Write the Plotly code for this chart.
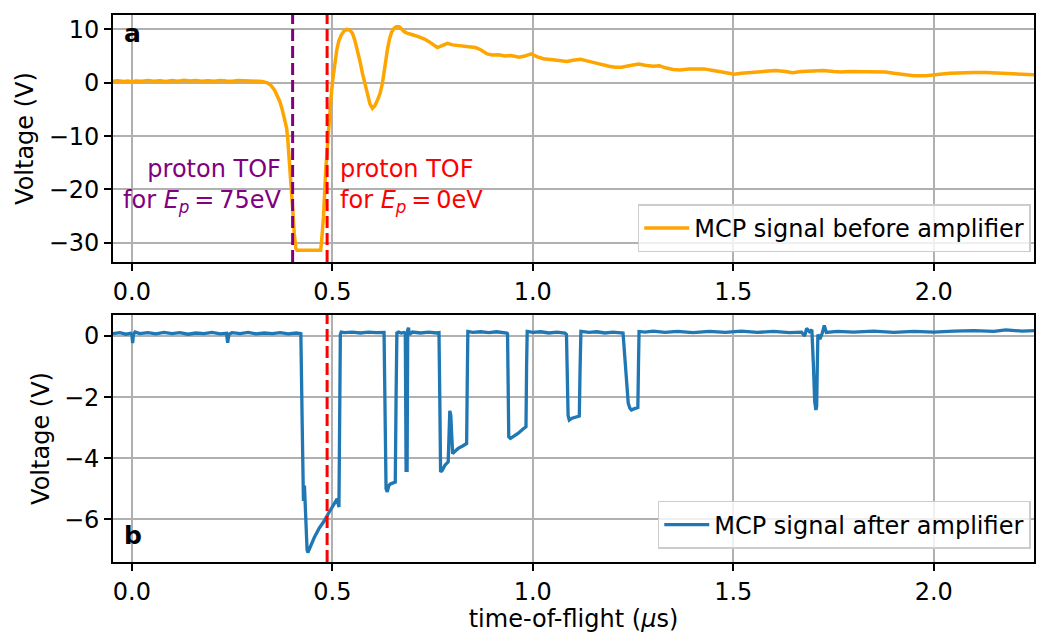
import plotly.graph_objects as go

# ---------------- data ----------------
# (time in microseconds, voltage in V) - MCP signal before amplifier
signal_before = [
    (-0.047, 0.3), (-0.035, 0.38), (-0.02, 0.22), (-0.01, 0.33), (0.0, 0.2), (0.01, 0.35),
    (0.025, 0.28), (0.04, 0.42), (0.055, 0.3), (0.07, 0.36), (0.085, 0.25), (0.10, 0.4),
    (0.115, 0.3), (0.13, 0.45), (0.145, 0.33), (0.16, 0.42), (0.175, 0.3), (0.19, 0.38),
    (0.205, 0.28), (0.22, 0.44), (0.235, 0.35), (0.25, 0.3), (0.265, 0.42), (0.28, 0.34),
    (0.295, 0.4), (0.31, 0.3), (0.325, 0.25), (0.338, 0.0), (0.347, -0.5), (0.356, -1.4),
    (0.363, -2.4), (0.369, -3.5), (0.375, -5.0), (0.381, -6.6), (0.386, -8.5), (0.389, -10.7),
    (0.393, -14.5), (0.397, -18.8), (0.401, -23.5), (0.405, -28.2), (0.409, -31.0), (0.412, -31.4),
    (0.44, -31.4), (0.471, -31.4), (0.474, -29.0), (0.478, -25.1), (0.484, -15.8), (0.489, -10.0),
    (0.493, -6.4), (0.497, -2.5), (0.501, 0.5), (0.506, 3.6), (0.511, 6.1), (0.516, 7.8),
    (0.522, 8.9), (0.529, 9.7), (0.536, 10.0), (0.543, 9.9), (0.550, 9.3), (0.556, 8.0),
    (0.563, 6.1), (0.569, 4.0), (0.575, 1.8), (0.582, -0.5), (0.588, -2.6), (0.594, -4.0),
    (0.600, -4.8), (0.606, -4.3), (0.613, -3.2), (0.619, -2.0), (0.625, -0.1), (0.629, 2.0),
    (0.633, 4.3), (0.638, 6.5), (0.643, 8.3), (0.648, 9.5), (0.654, 10.2), (0.660, 10.5),
    (0.667, 10.5), (0.673, 10.0), (0.679, 9.6), (0.686, 9.3), (0.692, 9.1), (0.70, 9.0),
    (0.716, 8.6), (0.73, 8.2), (0.741, 7.7), (0.752, 7.1), (0.762, 6.6), (0.772, 6.9),
    (0.787, 7.4), (0.80, 7.1), (0.816, 6.9), (0.83, 6.8), (0.845, 6.7), (0.857, 6.6),
    (0.87, 6.2), (0.886, 5.4), (0.90, 5.2), (0.915, 5.25), (0.93, 5.0), (0.945, 5.1),
    (0.966, 4.8), (0.98, 5.0), (0.996, 5.4), (1.01, 4.9), (1.026, 4.5), (1.05, 4.3),
    (1.07, 4.1), (1.085, 4.0), (1.10, 4.2), (1.119, 4.4), (1.14, 4.0), (1.155, 3.7),
    (1.171, 3.5), (1.19, 3.1), (1.205, 2.9), (1.222, 2.9), (1.24, 3.2), (1.264, 3.5),
    (1.28, 3.3), (1.30, 3.1), (1.316, 3.2), (1.33, 2.8), (1.35, 2.5), (1.367, 2.4),
    (1.39, 2.6), (1.41, 2.6), (1.427, 2.6), (1.45, 2.3), (1.469, 2.0), (1.49, 1.8),
    (1.503, 1.6), (1.52, 1.8), (1.555, 2.0), (1.58, 2.2), (1.606, 2.3), (1.63, 2.1),
    (1.648, 1.9), (1.67, 2.1), (1.70, 2.2), (1.725, 2.3), (1.75, 2.1), (1.768, 2.0),
    (1.79, 2.1), (1.82, 2.1), (1.853, 2.1), (1.88, 2.0), (1.90, 1.8), (1.922, 1.6),
    (1.95, 1.3), (1.981, 1.3), (2.0, 1.4), (2.015, 1.6), (2.04, 1.8), (2.067, 1.9),
    (2.10, 1.9), (2.13, 1.9), (2.152, 1.8), (2.18, 1.7), (2.21, 1.6), (2.25, 1.5),
]

# (time in microseconds, voltage in V) - MCP signal after amplifier
signal_after = [
    (-0.047, 0.08), (-0.03, 0.11), (-0.015, 0.06), (-0.003, 0.09), (0.0, 0.05), (0.002, -0.23),
    (0.004, 0.05), (0.008, 0.13), (0.02, 0.08), (0.04, 0.11), (0.06, 0.07), (0.08, 0.12),
    (0.10, 0.08), (0.12, 0.11), (0.14, 0.06), (0.16, 0.1), (0.18, 0.08), (0.20, 0.12),
    (0.22, 0.07), (0.236, 0.09), (0.239, -0.22), (0.242, 0.06), (0.25, 0.11), (0.27, 0.08),
    (0.29, 0.12), (0.31, 0.07), (0.33, 0.1), (0.35, 0.08), (0.37, 0.11), (0.39, 0.07),
    (0.41, 0.1), (0.4215, 0.08), (0.425, -3.0), (0.428, -5.4), (0.4305, -4.9), (0.4325, -5.6),
    (0.437, -7.0), (0.439, -7.09), (0.446, -6.87), (0.455, -6.6), (0.467, -6.3), (0.48, -6.05),
    (0.492, -5.77), (0.503, -5.55), (0.512, -5.33), (0.5165, -5.6), (0.5185, -2.0), (0.520, 0.05),
    (0.522, 0.13), (0.53, 0.11), (0.55, 0.13), (0.57, 0.1), (0.59, 0.13), (0.61, 0.11),
    (0.629, 0.12), (0.632, -2.5), (0.634, -5.0), (0.637, -5.1), (0.641, -4.9), (0.645, -4.84),
    (0.652, -4.8), (0.657, -4.78), (0.659, -2.0), (0.661, 0.1), (0.665, 0.13), (0.672, 0.1),
    (0.679, 0.12), (0.682, 0.1), (0.684, -4.4), (0.6865, -4.4), (0.688, 0.2), (0.690, 0.27),
    (0.692, 0.05), (0.70, 0.13), (0.72, 0.1), (0.74, 0.13), (0.76, 0.1), (0.766, 0.11),
    (0.768, -2.0), (0.770, -4.45), (0.774, -4.4), (0.781, -4.23), (0.789, -4.12), (0.791, -3.0),
    (0.793, -2.45), (0.7955, -2.6), (0.798, -3.6), (0.80, -3.85), (0.808, -3.75), (0.814, -3.68),
    (0.825, -3.6), (0.835, -3.52), (0.8365, -1.5), (0.838, 0.15), (0.85, 0.12), (0.87, 0.14),
    (0.89, 0.11), (0.91, 0.14), (0.935, 0.1), (0.937, 0.08), (0.940, -3.3), (0.944, -3.35),
    (0.95, -3.3), (0.963, -3.19), (0.975, -3.05), (0.983, -2.97), (0.9845, -1.0), (0.986, 0.15),
    (1.0, 0.12), (1.02, 0.14), (1.04, 0.1), (1.06, 0.13), (1.08, 0.1), (1.084, 0.05),
    (1.088, -2.6), (1.091, -2.75), (1.098, -2.69), (1.108, -2.66), (1.116, -2.62), (1.118, -1.0),
    (1.120, 0.15), (1.14, 0.12), (1.16, 0.14), (1.18, 0.1), (1.20, 0.13), (1.225, 0.1),
    (1.229, -0.6), (1.234, -1.5), (1.238, -2.2), (1.242, -2.36), (1.246, -2.42), (1.255, -2.37),
    (1.262, -2.34), (1.2635, -1.0), (1.265, 0.15), (1.28, 0.13), (1.30, 0.16), (1.33, 0.12),
    (1.36, 0.15), (1.40, 0.11), (1.44, 0.15), (1.48, 0.12), (1.52, 0.16), (1.56, 0.12),
    (1.60, 0.15), (1.64, 0.11), (1.67, 0.13), (1.678, 0.0), (1.683, 0.25), (1.69, 0.14),
    (1.696, 0.2), (1.700, -1.0), (1.703, -2.14), (1.706, -2.42), (1.708, -2.3), (1.7095, -1.04),
    (1.711, 0.05), (1.716, -0.1), (1.722, 0.1), (1.727, 0.35), (1.732, 0.12), (1.76, 0.15),
    (1.80, 0.13), (1.85, 0.16), (1.90, 0.12), (1.95, 0.15), (2.0, 0.13), (2.05, 0.16),
    (2.10, 0.18), (2.15, 0.15), (2.18, 0.2), (2.22, 0.16), (2.25, 0.18),
]

tof_75eV = 0.401   # proton TOF for Ep = 75 eV (us)
tof_0eV = 0.487    # proton TOF for Ep = 0 eV (us)

x_ticks = [0.0, 0.5, 1.0, 1.5, 2.0]
x_tick_labels = ["0.0", "0.5", "1.0", "1.5", "2.0"]
ya_ticks = [-30, -20, -10, 0, 10]
yb_ticks = [-6, -4, -2, 0]

# ---------------- figure ----------------
FONT = "DejaVu Sans"
FS = 24

ta = [p[0] for p in signal_before]
va = [p[1] for p in signal_before]
tb = [p[0] for p in signal_after]
vb = [p[1] for p in signal_after]

fig = go.Figure()
fig.add_trace(go.Scatter(x=ta, y=va, mode="lines", name="MCP signal before amplifier",
                         line=dict(color="#FFA500", width=3.5), xaxis="x", yaxis="y",
                         legend="legend"))
fig.add_trace(go.Scatter(x=tb, y=vb, mode="lines", name="MCP signal after amplifier",
                         line=dict(color="#1f77b4", width=3.3), xaxis="x2", yaxis="y2",
                         legend="legend2"))

axis_common = dict(showline=True, mirror=True, linecolor="black", linewidth=1.6,
                   ticks="outside", ticklen=7, tickwidth=1.5, tickcolor="black",
                   showgrid=True, gridcolor="#b0b0b0", gridwidth=1.5, zeroline=False,
                   tickfont=dict(family=FONT, size=FS, color="black"))

xr = [-0.047, 2.25]
legend_common = dict(xanchor="right", yanchor="bottom", itemwidth=45,
                     bgcolor="rgba(255,255,255,0.8)", bordercolor="#cccccc", borderwidth=1.5,
                     font=dict(family=FONT, size=FS, color="black"))
fig.update_layout(
    width=1038, height=633,
    margin=dict(l=113, r=2, t=15, b=71),
    paper_bgcolor="white", plot_bgcolor="white",
    font=dict(family=FONT, size=FS, color="black"),
    xaxis=dict(domain=[0, 1], anchor="y", range=xr, tickvals=x_ticks, ticktext=x_tick_labels,
               **axis_common),
    yaxis=dict(domain=[0.5484, 1], anchor="x", range=[-33.6, 12.7], tickvals=ya_ticks,
               title=dict(text="Voltage (V)", standoff=8, font=dict(family=FONT, size=FS)),
               **axis_common),
    xaxis2=dict(domain=[0, 1], anchor="y2", range=xr, tickvals=x_ticks, ticktext=x_tick_labels,
                title=dict(text="time-of-flight (<i>μ</i>s)", standoff=7,
                           font=dict(family=FONT, size=FS)),
                **axis_common),
    yaxis2=dict(domain=[0, 0.4516], anchor="x2", range=[-7.4, 0.69], tickvals=yb_ticks,
                title=dict(text="Voltage (V)", standoff=8, font=dict(family=FONT, size=FS)),
                **axis_common),
    legend=dict(x=0.9965, y=0.566, **legend_common),
    legend2=dict(x=0.9965, y=0.0238, **legend_common),
    showlegend=True,
)

dash = "12px,5px"
fig.add_shape(type="line", xref="x", yref="y domain", x0=tof_75eV, x1=tof_75eV, y0=0, y1=1,
              line=dict(color="#800080", width=3, dash=dash))
fig.add_shape(type="line", xref="x", yref="y domain", x0=tof_0eV, x1=tof_0eV, y0=0, y1=1,
              line=dict(color="#FF0000", width=3, dash=dash))
fig.add_shape(type="line", xref="x2", yref="y2 domain", x0=tof_0eV, x1=tof_0eV, y0=0, y1=1,
              line=dict(color="#FF0000", width=3, dash=dash))

fig.add_annotation(text="<b>a</b>", xref="x domain", yref="y domain", x=0.010, y=0.925,
                   xanchor="left", yanchor="middle", showarrow=False,
                   font=dict(family=FONT, size=FS + 1, color="black"))
fig.add_annotation(text="<b>b</b>", xref="x2 domain", yref="y2 domain", x=0.010, y=0.109,
                   xanchor="left", yanchor="middle", showarrow=False,
                   font=dict(family=FONT, size=FS + 1, color="black"))
fig.add_annotation(text="proton TOF<br>for <i>E</i><sub><i>p</i></sub>\u2009=\u200975eV",
                   xref="x", yref="y", x=tof_75eV - 0.023, y=-19.4, xanchor="right",
                   yanchor="middle", align="right", showarrow=False,
                   font=dict(family=FONT, size=FS, color="#800080"))
fig.add_annotation(text="proton TOF<br>for <i>E</i><sub><i>p</i></sub>\u2009=\u20090eV",
                   xref="x", yref="y", x=tof_0eV + 0.028, y=-19.4, xanchor="left",
                   yanchor="middle", align="left", showarrow=False,
                   font=dict(family=FONT, size=FS, color="#FF0000"))

fig.write_html("out.html")
